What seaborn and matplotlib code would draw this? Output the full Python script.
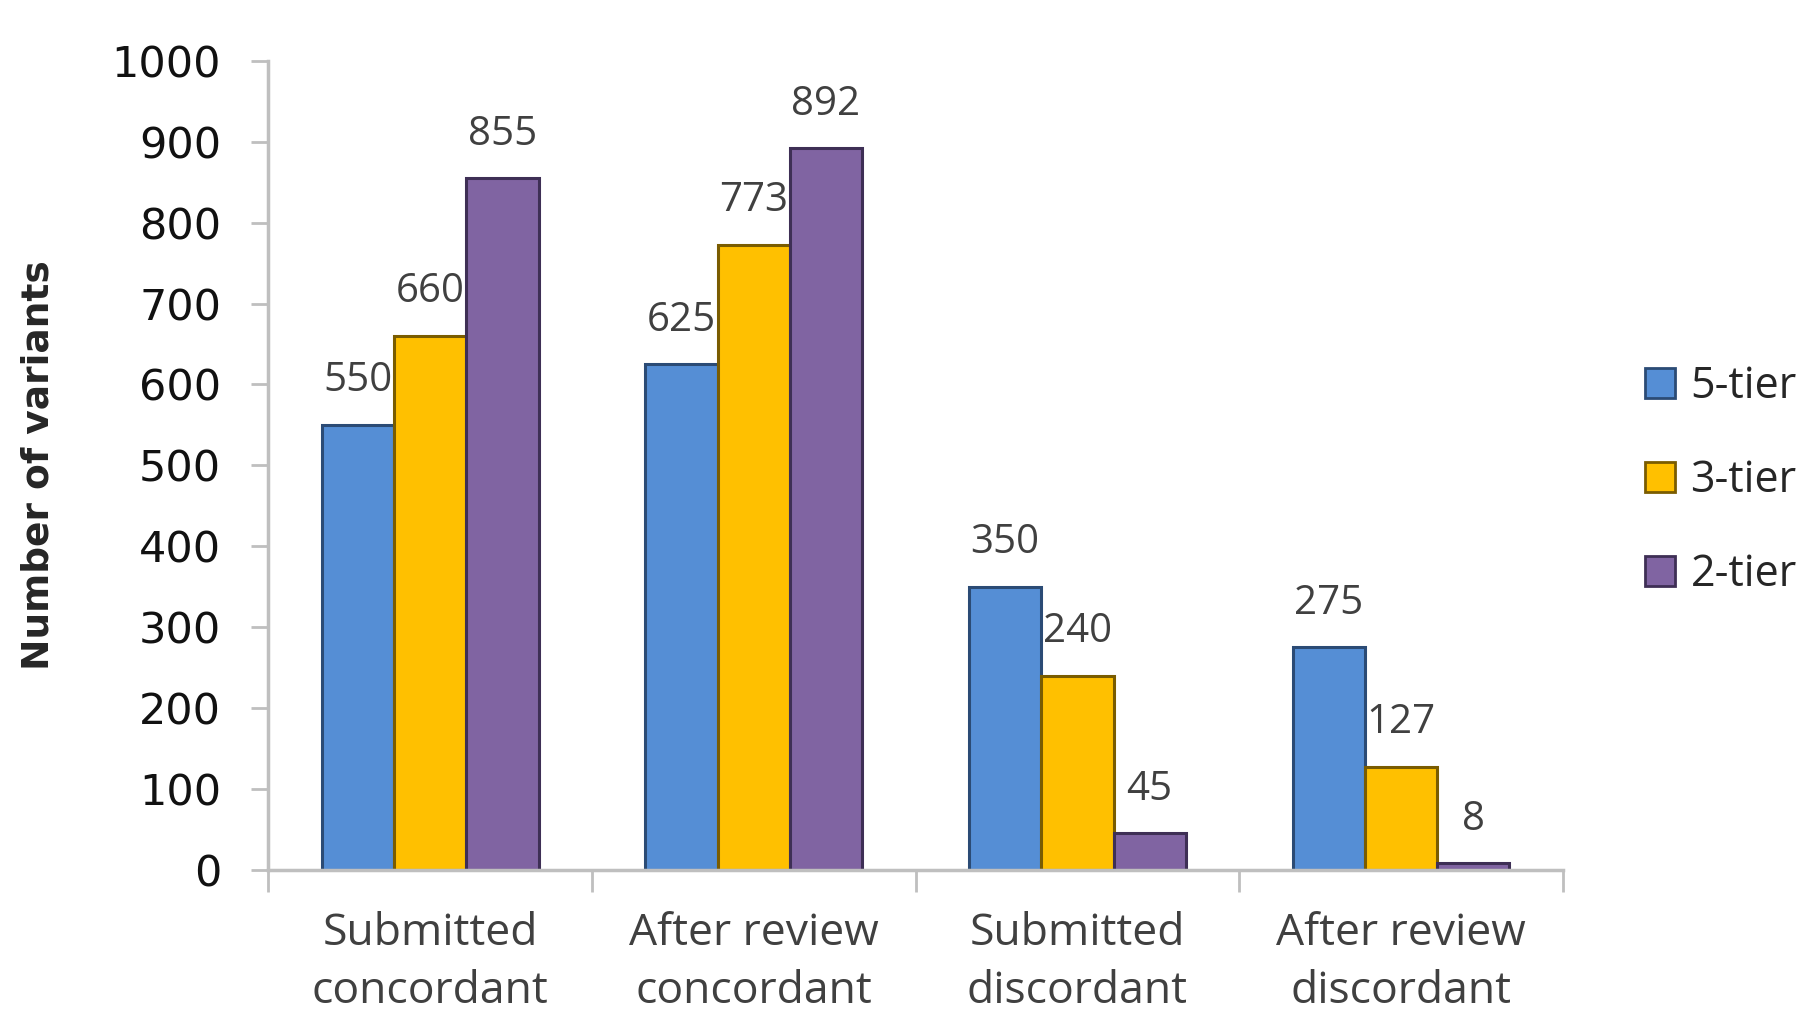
import matplotlib
matplotlib.use("Agg")
import matplotlib.pyplot as plt
import seaborn as sns
import pandas as pd
import numpy as np
from matplotlib.patches import Patch

categories = ["Submitted\nconcordant", "After review\nconcordant",
              "Submitted\ndiscordant", "After review\ndiscordant"]
tiers = ["5-tier", "3-tier", "2-tier"]
values_5tier = [550, 625, 350, 275]
values_3tier = [660, 773, 240, 127]
values_2tier = [855, 892, 45, 8]
yticks = [0, 100, 200, 300, 400, 500, 600, 700, 800, 900, 1000]

colors = ["#558ED5", "#FFC000", "#8064A2"]
edges = ["#2B4B75", "#7A5C00", "#3E2F55"]

df = pd.DataFrame({
    "category": categories * 3,
    "tier": [t for t in tiers for _ in categories],
    "value": values_5tier + values_3tier + values_2tier,
})

sns.set_style("white")
plt.rcParams["font.family"] = ["DejaVu Sans"]

fig = plt.figure(figsize=(18.13, 10.16), dpi=100)
ax = fig.add_axes([0.148, 0.144, 0.714, 0.796])

sns.barplot(data=df, x="category", y="value", hue="tier", order=categories,
            hue_order=tiers, palette=colors, width=0.67, saturation=1,
            ax=ax, legend=False)

for cont, ec in zip(ax.containers, edges):
    for p in cont:
        p.set_edgecolor(ec)
        p.set_linewidth(2.2)
    ax.bar_label(cont, padding=17, fontsize=29, color="#404040",
                 fontfamily="Open Sans")

ax.set_ylim(0, 1000)
ax.set_xlim(-0.5, 3.5)
ax.set_yticks(yticks)
ax.set_yticklabels([str(v) for v in yticks], fontsize=31, color="#111111")
ax.tick_params(axis="y", length=12, width=2, color="#BFBFBF", pad=22, left=True)

ax.set_xticks(range(len(categories)))
ax.set_xticklabels(categories, fontsize=32, color="#404040", fontfamily="Open Sans",
                   linespacing=1.4)
ax.tick_params(axis="x", which="major", length=0, pad=30)
ax.set_xticks([-0.5, 0.5, 1.5, 2.5, 3.5], minor=True)
ax.tick_params(axis="x", which="minor", length=16, width=2, color="#BFBFBF", bottom=True)

for s in ["top", "right"]:
    ax.spines[s].set_visible(False)
for s in ["left", "bottom"]:
    ax.spines[s].set_color("#BFBFBF")
    ax.spines[s].set_linewidth(2.5)

ax.set_xlabel("")
ax.set_ylabel("Number of variants", fontsize=27, fontweight="bold", labelpad=40)

handles = [Patch(facecolor=c, edgecolor=e, linewidth=2, label=t)
           for c, e, t in zip(colors, edges, tiers)]
fig.legend(handles=handles, loc="center left", bbox_to_anchor=(0.898, 0.527),
           frameon=False, handlelength=0.7, handleheight=0.7,
           handletextpad=0.35, labelspacing=1.15, borderaxespad=0,
           prop={"family": "Open Sans", "size": 31})

fig.savefig("out.png", dpi=100)
